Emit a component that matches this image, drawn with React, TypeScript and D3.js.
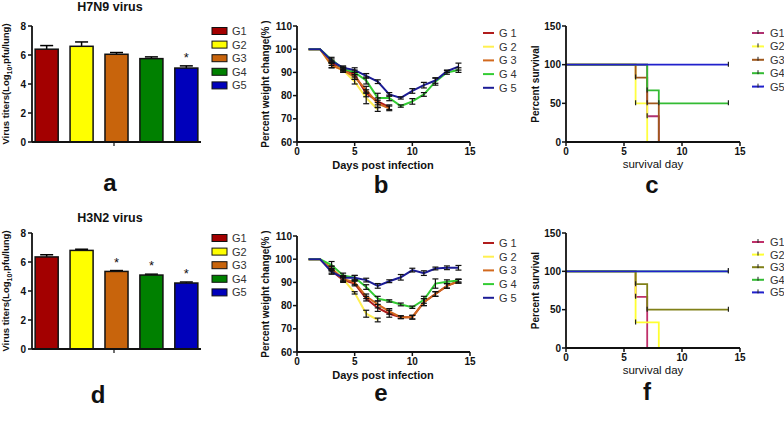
import React from "react";
import * as d3 from "d3";

const FONT = "'Liberation Sans', Arial, sans-serif";

const groups = ["G1", "G2", "G3", "G4", "G5"];
const lineNames = ["G 1", "G 2", "G 3", "G 4", "G 5"];
const barColors = ["#a30000", "#ffff00", "#c8640c", "#008000", "#0000bb"];
const lineColors = ["#b01c1c", "#fff050", "#d2691e", "#33cc33", "#1c1c96"];
const survColorsC = ["#b03070", "#ffff40", "#a0581c", "#33bb33", "#2020cc"];
const survColorsF = ["#c0306a", "#ffff30", "#808018", "#33bb33", "#2020cc"];

// bar panels (virus titers)
const titerTicks = [0, 2, 4, 6, 8];
const h7n9Titer = [6.4, 6.6, 6.05, 5.75, 5.1];
const h7n9Err = [0.25, 0.3, 0.12, 0.12, 0.15];
const h7n9Stars = [false, false, false, false, true];
const h3n2Titer = [6.35, 6.8, 5.35, 5.1, 4.55];
const h3n2Err = [0.15, 0.08, 0.06, 0.06, 0.07];
const h3n2Stars = [false, false, true, true, true];

// weight change panels
const days = [1, 2, 3, 4, 5, 6, 7, 8, 9, 10, 11, 12, 13, 14];
const weightTicks = [60, 70, 80, 90, 100, 110];
const dayTicks = [0, 5, 10, 15];

const h7n9Weight = [
  [100, 100, 94, 91.5, 89, 81, 77.5, 75],
  [100, 100, 93, 91, 86, 79, 74],
  [100, 100, 93, 91, 88, 82.5, 76.5, 74.5],
  [100, 100, 95.5, 91.5, 90, 86.5, 79, 79, 75.5, 77.5, 80.5, 86, 90, 91],
  [100, 100, 95, 92, 91, 88.5, 86, 80.5, 79, 82, 84.5, 86.5, 90.5, 92.5],
];
const h7n9WeightErr = [
  [0, 0, 1, 0.8, 1, 1.5, 1.5, 1],
  [0, 0, 1, 1, 1, 2.5, 0.8],
  [0, 0, 1, 0.8, 1, 1.5, 1.5, 1],
  [0, 0, 1, 0.8, 1, 1.5, 2, 1.2, 0.5, 1.2, 0.8, 1.5, 0.8, 1],
  [0, 0, 0.8, 0.8, 1, 1, 0.8, 0.8, 0.5, 1, 1.2, 1.2, 0.5, 1.5],
];
const h3n2Weight = [
  [100, 100, 95, 91, 89.5, 83, 79, 76.5, 75, 75, 81.5, 85, 88.5, 90.5],
  [100, 100, 96, 91.5, 85.5, 76.5, 73.8],
  [100, 100, 96, 91.5, 90, 84, 80.5, 77.5, 75, 75, 81.5, 85, 88.5, 90.5],
  [100, 100, 97.5, 93, 92, 88, 83, 82, 80.5, 79.3, 82.5, 89.5, 90.3, 90.8],
  [100, 100, 94.5, 92, 92, 91, 88.5, 90.5, 92.2, 95.3, 94, 96, 96.3, 96.3],
];
const h3n2WeightErr = [
  [0, 0, 1, 1, 1, 1, 1.5, 1.5, 0.6, 0.8, 1.5, 1, 1, 0.8],
  [0, 0, 1, 1, 0.5, 1.5, 0.8],
  [0, 0, 1, 1, 1, 1, 1.5, 1.2, 0.6, 0.8, 1.5, 1, 1, 0.8],
  [0, 0, 1.5, 1, 1, 1, 1, 0.5, 0.6, 0.5, 1.5, 2, 0.8, 0.6],
  [0, 0, 1, 1, 1, 0.8, 1, 0.6, 1.2, 0.8, 1, 0.6, 0.8, 1],
];

// survival panels
const survTicks = [0, 50, 100, 150];
const h7n9SurvDays = [[0, 7, 8], [0, 6, 7], [0, 6, 7, 8], [0, 7, 8, 14], [0, 14]];
const h7n9Surv = [[100, 33.3, 0], [100, 50, 0], [100, 83.3, 50, 0], [100, 66.7, 50, 50], [100, 100]];
const h3n2SurvDays = [[0, 6, 7], [0, 6, 8], [0, 6, 7, 14], [0, 14], [0, 14]];
const h3n2Surv = [[100, 66.7, 0], [100, 33.3, 0], [100, 83.3, 50, 50], [100, 100], [100, 100]];

const tickText = { fontFamily: FONT, fontSize: 10, fontWeight: 700, fill: "#111" } as const;
const titleText = { fontFamily: FONT, fontSize: 11, fontWeight: 700, fill: "#111" } as const;
const letterText = { fontFamily: FONT, fontSize: 24, fontWeight: 700, fill: "#111" } as const;
const legendText = { fontFamily: FONT, fontSize: 11, fill: "#333" } as const;

function BarPanel({ title, values, errors, stars, top, titleY, letter, letterX, letterY }: any) {
  const x = d3.scaleBand().domain(groups).range([32, 201]).paddingInner(0.34).paddingOuter(0.09);
  const y = d3.scaleLinear().domain([0, 8]).range([top + 116, top]);
  const base = y(0);
  return (
    <g>
      <text x={110} y={titleY} textAnchor="middle" style={{ ...titleText, fontSize: 12.5 }}>{title}</text>
      {values.map((v: number, i: number) => {
        const cx = x(groups[i])! + x.bandwidth() / 2;
        const et = y(v + errors[i]);
        return (
          <g key={i}>
            <line x1={cx} x2={cx} y1={y(v)} y2={et} stroke="#000" strokeWidth={1.5} />
            <line x1={cx - 6.5} x2={cx + 6.5} y1={et} y2={et} stroke="#000" strokeWidth={1.5} />
            <rect x={x(groups[i])} y={y(v)} width={x.bandwidth()} height={base - y(v)}
              fill={barColors[i]} stroke="#111" strokeWidth={1.5} />
            {stars[i] && (
              <text x={cx} y={et - 4} textAnchor="middle" style={{ fontFamily: FONT, fontSize: 13, fill: "#111" }}>*</text>
            )}
          </g>
        );
      })}
      <line x1={32} x2={201} y1={base} y2={base} stroke="#111" strokeWidth={1.8} />
      <line x1={114} x2={114} y1={base} y2={base + 4} stroke="#111" strokeWidth={1.2} />
      <line x1={32} x2={32} y1={top} y2={base} stroke="#111" strokeWidth={1.8} />
      {titerTicks.map((t) => (
        <g key={t}>
          <line x1={28} x2={32} y1={y(t)} y2={y(t)} stroke="#111" strokeWidth={1.5} />
          <text x={26} y={y(t) + 3.5} textAnchor="end" style={tickText}>{t}</text>
        </g>
      ))}
      <text transform={`translate(9,${(top + base) / 2}) rotate(-90)`} textAnchor="middle"
        style={{ ...tickText, fontSize: 9.5 }}>
        Virus titers(Log<tspan fontSize={7} dy={3}>10</tspan><tspan dy={-3}>,pfu/lung)</tspan>
      </text>
      {groups.map((g, i) => (
        <g key={g}>
          <rect x={212} y={top + 5 + i * 13.6 - 3.5} width={15} height={7} fill={barColors[i]} stroke="#111" strokeWidth={1} />
          <text x={232} y={top + 5 + i * 13.6 + 4} style={legendText}>{g}</text>
        </g>
      ))}
      <text x={letterX} y={letterY} textAnchor="middle" style={letterText}>{letter}</text>
    </g>
  );
}

function WeightPanel({ values, errors, top, bottom, letter, letterY, legendTop }: any) {
  const x = d3.scaleLinear().domain([0, 15]).range([297, 470]);
  const y = d3.scaleLinear().domain([60, 110]).range([bottom, top]);
  const path = d3.line<number>().x((_, i) => x(days[i])).y((v) => y(v));
  return (
    <g>
      {values.map((s: number[], gi: number) => (
        <path key={gi} d={path(s)!} fill="none" stroke={lineColors[gi]} strokeWidth={2} />
      ))}
      {values.map((s: number[], gi: number) =>
        s.map((v, i) =>
          errors[gi][i] > 0 ? (
            <g key={`${gi}-${i}`} stroke="#111" strokeWidth={1.2}>
              <line x1={x(days[i])} x2={x(days[i])} y1={y(v - errors[gi][i])} y2={y(v + errors[gi][i])} />
              <line x1={x(days[i]) - 3} x2={x(days[i]) + 3} y1={y(v - errors[gi][i])} y2={y(v - errors[gi][i])} />
              <line x1={x(days[i]) - 3} x2={x(days[i]) + 3} y1={y(v + errors[gi][i])} y2={y(v + errors[gi][i])} />
            </g>
          ) : null
        )
      )}
      <line x1={297} x2={297} y1={top} y2={bottom} stroke="#111" strokeWidth={1.8} />
      <line x1={297} x2={470} y1={bottom} y2={bottom} stroke="#111" strokeWidth={1.8} />
      {weightTicks.map((t) => (
        <g key={t}>
          <line x1={293} x2={297} y1={y(t)} y2={y(t)} stroke="#111" strokeWidth={1.5} />
          <text x={292} y={y(t) + 3.5} textAnchor="end" style={tickText}>{t}</text>
        </g>
      ))}
      {dayTicks.map((t) => (
        <g key={t}>
          <line x1={x(t)} x2={x(t)} y1={bottom} y2={bottom + 4} stroke="#111" strokeWidth={1.5} />
          <text x={x(t)} y={bottom + 13} textAnchor="middle" style={tickText}>{t}</text>
        </g>
      ))}
      <text transform={`translate(269,${(top + bottom) / 2}) rotate(-90)`} textAnchor="middle" style={tickText}>
        Percent weight change(% )
      </text>
      <text x={383} y={bottom + 27} textAnchor="middle" style={{ ...titleText, fontSize: 11 }}>Days post infection</text>
      {lineNames.map((g, i) => (
        <g key={g}>
          <line x1={483} x2={494} y1={legendTop + i * 13.7} y2={legendTop + i * 13.7} stroke={lineColors[i]} strokeWidth={2} />
          <text x={499} y={legendTop + i * 13.7 + 4} style={legendText}>{g}</text>
        </g>
      ))}
      <text x={381} y={letterY} textAnchor="middle" style={letterText}>{letter}</text>
    </g>
  );
}

function SurvivalPanel({ times, values, colors, top, bottom, letter, letterX, letterY, legendTop, legendStep }: any) {
  const x = d3.scaleLinear().domain([0, 15]).range([566, 740]);
  const y = d3.scaleLinear().domain([0, 150]).range([bottom, top]);
  const path = d3.line<[number, number]>().x((d) => x(d[0])).y((d) => y(d[1])).curve(d3.curveStepAfter);
  return (
    <g>
      {values.map((s: number[], gi: number) => {
        const pts: [number, number][] = s.map((v, i) => [times[gi][i], v]);
        return <path key={gi} d={path(pts)!} fill="none" stroke={colors[gi]} strokeWidth={1.8} />;
      })}
      {values.map((s: number[], gi: number) =>
        s.map((v, i) =>
          i > 0 && v > 0 ? (
            <line key={`${gi}-${i}`} x1={x(times[gi][i])} x2={x(times[gi][i])} y1={y(v) - 3} y2={y(v) + 2}
              stroke="#222" strokeWidth={1.2} />
          ) : null
        )
      )}
      <line x1={566} x2={566} y1={top} y2={bottom} stroke="#111" strokeWidth={1.8} />
      <line x1={566} x2={740} y1={bottom} y2={bottom} stroke="#111" strokeWidth={1.8} />
      {survTicks.map((t) => (
        <g key={t}>
          <line x1={562} x2={566} y1={y(t)} y2={y(t)} stroke="#111" strokeWidth={1.5} />
          <text x={561} y={y(t) + 3.5} textAnchor="end" style={tickText}>{t}</text>
        </g>
      ))}
      {dayTicks.map((t) => (
        <g key={t}>
          <line x1={x(t)} x2={x(t)} y1={bottom} y2={bottom + 4} stroke="#111" strokeWidth={1.5} />
          <text x={x(t)} y={bottom + 13} textAnchor="middle" style={tickText}>{t}</text>
        </g>
      ))}
      <text transform={`translate(539,${(top + bottom) / 2}) rotate(-90)`} textAnchor="middle" style={tickText}>
        Percent survival
      </text>
      <text x={653} y={bottom + 26} textAnchor="middle" style={{ ...titleText, fontWeight: 400, fontSize: 11.5 }}>survival day</text>
      {groups.map((g, i) => (
        <g key={g}>
          <line x1={752} x2={764} y1={legendTop + i * legendStep} y2={legendTop + i * legendStep} stroke={colors[i]} strokeWidth={2} />
          <line x1={758} x2={758} y1={legendTop + i * legendStep - 3} y2={legendTop + i * legendStep + 1} stroke="#222" strokeWidth={1} />
          <text x={770} y={legendTop + i * legendStep + 4} style={legendText}>{g}</text>
        </g>
      ))}
      <text x={letterX} y={letterY} textAnchor="middle" style={letterText}>{letter}</text>
    </g>
  );
}

export default function App() {
  return (
    <svg width={784} height={430} style={{ position: "absolute", left: 0, top: 0, background: "#fff" }}>
      <rect width={784} height={430} fill="#fff" />
      <BarPanel title="H7N9 virus" values={h7n9Titer} errors={h7n9Err} stars={h7n9Stars}
        top={26} titleY={11} letter="a" letterX={110} letterY={191} />
      <BarPanel title="H3N2 virus" values={h3n2Titer} errors={h3n2Err} stars={h3n2Stars}
        top={233} titleY={222} letter="d" letterX={98} letterY={403} />
      <WeightPanel values={h7n9Weight} errors={h7n9WeightErr} top={26} bottom={142}
        letter="b" letterY={193} legendTop={33} />
      <WeightPanel values={h3n2Weight} errors={h3n2WeightErr} top={236} bottom={352}
        letter="e" letterY={401} legendTop={243} />
      <SurvivalPanel times={h7n9SurvDays} values={h7n9Surv} colors={survColorsC} top={26} bottom={142}
        letter="c" letterX={652} letterY={193} legendTop={33} legendStep={13.4} />
      <SurvivalPanel times={h3n2SurvDays} values={h3n2Surv} colors={survColorsF} top={233} bottom={348}
        letter="f" letterX={647} letterY={400} legendTop={242} legendStep={12.6} />
    </svg>
  );
}
